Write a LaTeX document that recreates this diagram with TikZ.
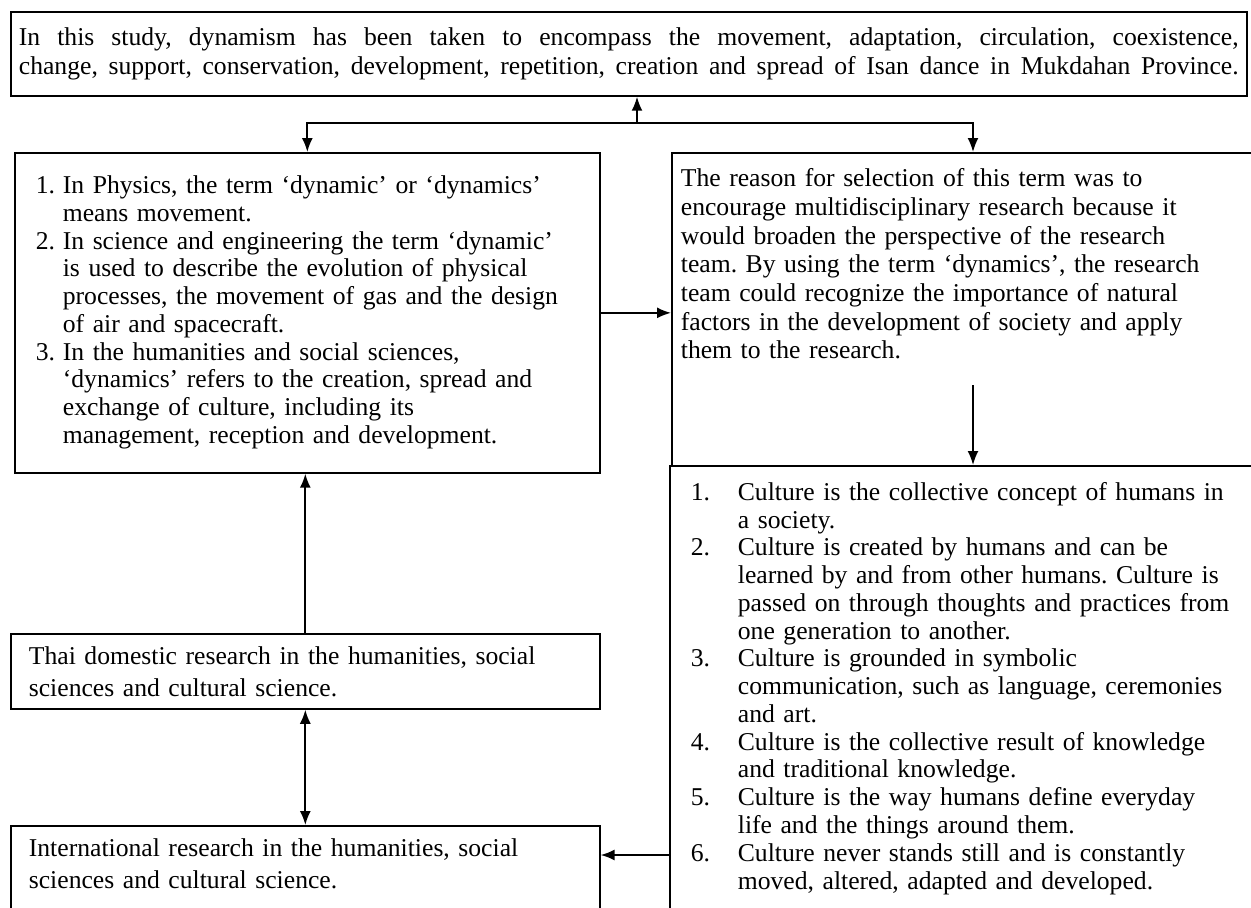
\documentclass[tikz,border=0pt]{standalone}
\usepackage{fontspec}
\setmainfont{Liberation Serif}
\usetikzlibrary{arrows.meta}
\frenchspacing

\begin{document}
\begin{tikzpicture}
	[
		x=0.02cm, y=-0.02cm,
		box/.style = {draw, line width=1pt, anchor=north west, align=left, font=\fontsize{14.6}{15.8}\selectfont},
		arr/.style = {line width=1pt, -{Latex[length=0.28cm, width=0.22cm]}},
		dblarr/.style = {line width=1pt, {Latex[length=0.28cm, width=0.22cm]}-{Latex[length=0.28cm, width=0.22cm]}}
	]
	
	\useasboundingbox (0,0) rectangle (1251,907);
	\clip (0,0) rectangle (1251,907);
	
	\node [box, text width=24.4cm, inner xsep=0.16cm, minimum height=1.68cm, font=\fontsize{14.6}{17}\selectfont] (study) at (10,11)
		{\spaceskip=0pt \xspaceskip=0pt
		 \makebox[24.4cm][s]{In this study, dynamism has been taken to encompass the movement, adaptation, circulation, coexistence,}\\
		 \makebox[24.4cm][s]{change, support, conservation, development, repetition, creation and spread of Isan dance in Mukdahan Province.}};
	
	\node [box, text width=10.86cm, inner xsep=0.42cm, minimum height=6.4cm] (physics) at (14,152)
		{\begin{tabular}{@{}p{0.54cm}@{}l@{}}
		1. & In Physics, the term ‘dynamic’ or ‘dynamics’\\
		   & means movement.\\
		2. & In science and engineering the term ‘dynamic’\\
		   & is used to describe the evolution of physical\\
		   & processes, the movement of gas and the design\\
		   & of air and spacecraft.\\
		3. & In the humanities and social sciences,\\
		   & ‘dynamics’ refers to the creation, spread and\\
		   & exchange of culture, including its\\
		   & management, reception and development.
		\end{tabular}};
	
	\node [box, text width=11.46cm, inner xsep=0.18cm, inner ysep=0.28cm, text height=0.4cm, text depth=5.3cm, font=\fontsize{14.6}{16.3}\selectfont] (reason) at (671,152)
		{The reason for selection of this term was to\\
		encourage multidisciplinary research because it\\
		would broaden the perspective of the research\\
		team. By using the term ‘dynamics’, the research\\
		team could recognize the importance of natural\\
		factors in the development of society and apply\\
		them to the research.};
	
	\node [box, text width=11.02cm, inner xsep=0.42cm, inner ysep=0.29cm, text height=0.4cm, text depth=8.2cm] (culture) at (669,465)
		{\begin{tabular}[t]{@{}p{0.94cm}@{}l@{}}
		1. & Culture is the collective concept of humans in\\
		   & a society.\\
		2. & Culture is created by humans and can be\\
		   & learned by and from other humans. Culture is\\
		   & passed on through thoughts and practices from\\
		   & one generation to another.\\
		3. & Culture is grounded in symbolic\\
		   & communication, such as language, ceremonies\\
		   & and art.\\
		4. & Culture is the collective result of knowledge\\
		   & and traditional knowledge.\\
		5. & Culture is the way humans define everyday\\
		   & life and the things around them.\\
		6. & Culture never stands still and is constantly\\
		   & moved, altered, adapted and developed.
		\end{tabular}};
	
	\node [box, text width=11.06cm, inner xsep=0.36cm, minimum height=1.5cm, font=\fontsize{14.6}{18.2}\selectfont] (thai) at (10,633)
		{Thai domestic research in the humanities, social\\
		sciences and cultural science.};
	
	\node [box, text width=11.06cm, inner xsep=0.36cm, inner ysep=0.22cm, text height=0.4cm, text depth=1.3cm, font=\fontsize{14.6}{18.2}\selectfont] (intl) at (10,825)
		{International research in the humanities, social\\
		sciences and cultural science.};
	
	% connectors
	\coordinate (jn) at (637,123);
	\coordinate (jr) at (973,123);
	\coordinate (rc) at (973,385);
	\coordinate (ci) at (669,855);
	
	\draw [arr] (jn) -- (jn |- study.south);
	\draw [arr] (jn) -| (physics.north);
	\draw [arr] (jn) -| (jr |- reason.north);
	\draw [arr] (physics.east) -- (physics.east -| reason.west);
	\draw [arr] (rc) -- (rc |- culture.north);
	\draw [arr] (thai.north) -- (thai.north |- physics.south);
	\draw [dblarr] (thai.south) -- (thai.south |- intl.north);
	\draw [arr] (ci) -- (ci -| intl.east);
	
\end{tikzpicture}
\end{document}
